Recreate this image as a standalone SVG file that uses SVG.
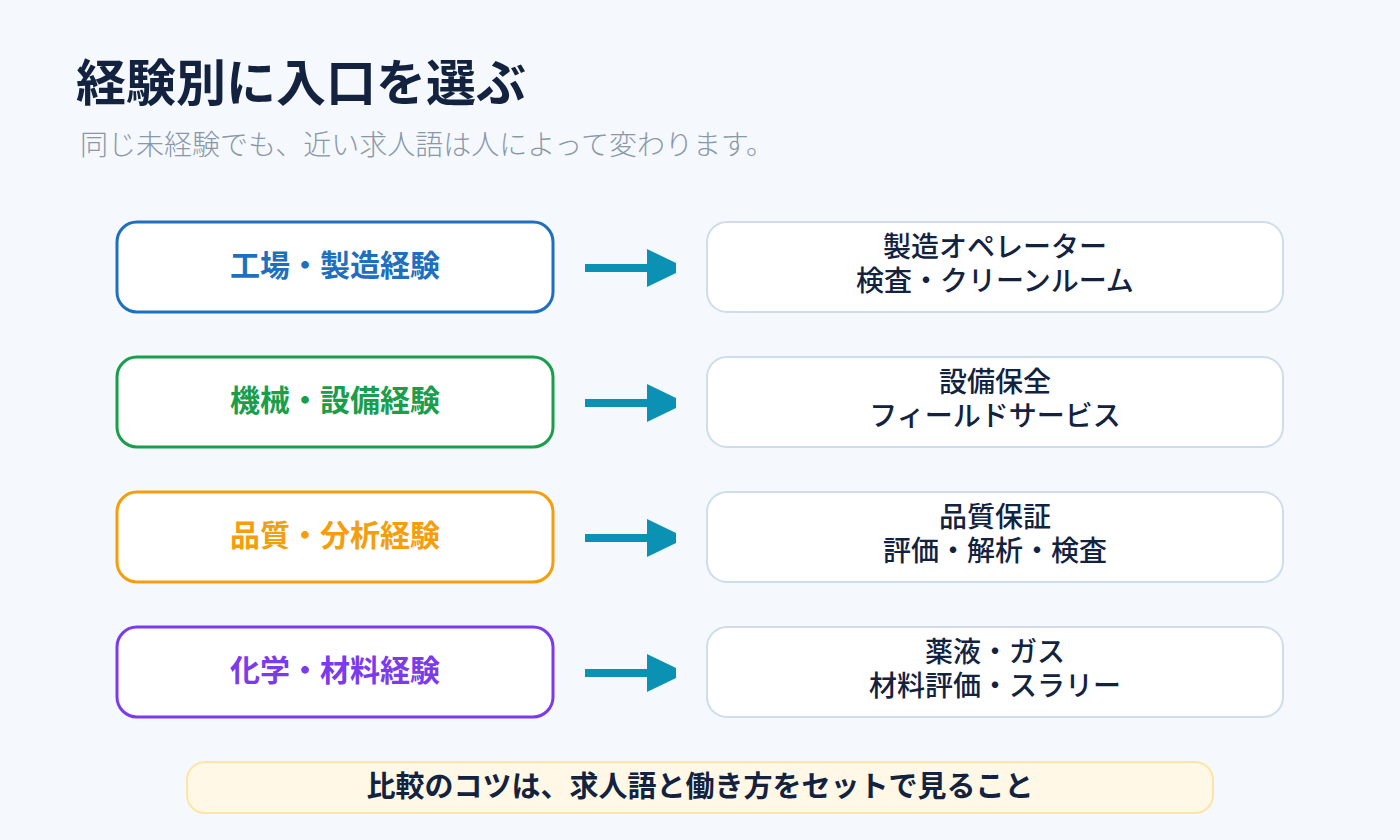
<svg xmlns="http://www.w3.org/2000/svg" width="1400" height="840" viewBox="0 0 1400 840">
<style>
text{font-family:"Noto Sans CJK JP","Noto Sans",sans-serif}
.title{font-size:50px;font-weight:700;fill:#13233f}
.sub{font-size:28px;font-weight:300;fill:#8a97a8}
.src{fill:#ffffff;stroke-width:3}
.srct{font-size:30px;font-weight:700;text-anchor:middle}
.dst{fill:#ffffff;stroke:#cfdcee;stroke-width:2}
.dstt{font-size:28px;font-weight:500;fill:#13233f;text-anchor:middle}
.ar{stroke:#0a91b3;stroke-width:8;fill:none}
.ah{fill:#0a91b3}
</style>
<rect width="1400" height="840" fill="#f5f9fe"/>
<text class="title" x="76" y="101">経験別に入口を選ぶ</text>
<text class="sub" x="80" y="155">同じ未経験でも、近い求人語は人によって変わります。</text>

<g id="src1"><rect class="src" x="117" y="222" width="436" height="90" rx="20" stroke="#1f6fbf"/><text class="srct" x="335" y="276" fill="#1f6fbf">工場・製造経験</text></g>
<g id="src2"><rect class="src" x="117" y="357" width="436" height="90" rx="20" stroke="#1a9e4b"/><text class="srct" x="335" y="411" fill="#1a9e4b">機械・設備経験</text></g>
<g id="src3"><rect class="src" x="117" y="492" width="436" height="90" rx="20" stroke="#f59e0b"/><text class="srct" x="335" y="546" fill="#f59e0b">品質・分析経験</text></g>
<g id="src4"><rect class="src" x="117" y="627" width="436" height="90" rx="20" stroke="#7c3aed"/><text class="srct" x="335" y="681" fill="#7c3aed">化学・材料経験</text></g>

<g id="dst1"><rect class="dst" x="707" y="222" width="576" height="90" rx="20"/><text class="dstt" x="995" y="257">製造オペレーター</text><text class="dstt" x="995" y="291">検査・クリーンルーム</text></g>
<g id="dst2"><rect class="dst" x="707" y="357" width="576" height="90" rx="20"/><text class="dstt" x="995" y="392">設備保全</text><text class="dstt" x="995" y="426">フィールドサービス</text></g>
<g id="dst3"><rect class="dst" x="707" y="492" width="576" height="90" rx="20"/><text class="dstt" x="995" y="527">品質保証</text><text class="dstt" x="995" y="561">評価・解析・検査</text></g>
<g id="dst4"><rect class="dst" x="707" y="627" width="576" height="90" rx="20"/><text class="dstt" x="995" y="662">薬液・ガス</text><text class="dstt" x="995" y="696">材料評価・スラリー</text></g>

<g id="connectors">
<line class="ar" x1="585" y1="268" x2="650" y2="268"/><polygon class="ah" points="647,249 676,263 676,273 647,287"/>
<line class="ar" x1="585" y1="403" x2="650" y2="403"/><polygon class="ah" points="647,384 676,398 676,408 647,422"/>
<line class="ar" x1="585" y1="538" x2="650" y2="538"/><polygon class="ah" points="647,519 676,533 676,543 647,557"/>
<line class="ar" x1="585" y1="673" x2="650" y2="673"/><polygon class="ah" points="647,654 676,668 676,678 647,692"/>
</g>

<g id="note"><rect x="187" y="762" width="1026" height="51" rx="18" fill="#fff8e6" stroke="#fde5a6" stroke-width="2"/><text x="700" y="797" font-size="29" font-weight="700" fill="#13233f" text-anchor="middle">比較のコツは、求人語と働き方をセットで見ること</text></g>
</svg>
